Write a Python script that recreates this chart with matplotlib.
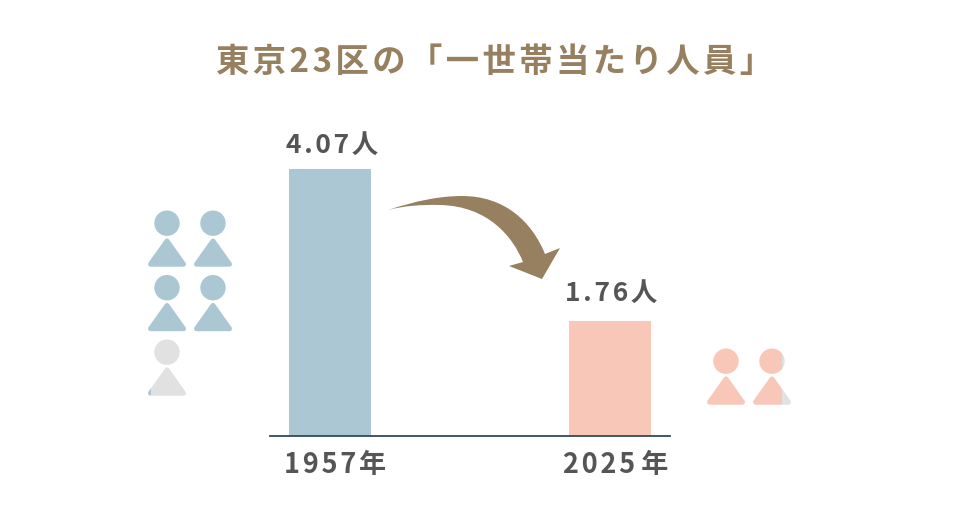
import matplotlib
matplotlib.use('Agg')
import matplotlib.pyplot as plt
from matplotlib.patches import Circle, Polygon, PathPatch, Rectangle
from matplotlib.path import Path
from matplotlib.transforms import ScaledTranslation

plt.rcParams['font.family'] = ['Noto Sans CJK JP', 'DejaVu Sans']

# data
years = ['1957年', '2025 年']
members = [4.07, 1.76]
value_labels = ['4.07人', '1.76人']
title = '東京23区の「一世帯当たり人員」'

BLUE = '#abc7d3'
PINK = '#f9c7b7'
GREY = '#e1e1e1'
BROWN = '#96805f'
TEXT = '#555555'
W, H = 960, 516
HAIR = '\u200a'


def spaced(s, sep=HAIR):
    # letter spacing, but leave real spaces alone
    out = s[0]
    for a, b in zip(s, s[1:]):
        out += b if (a == ' ' or b == ' ') else sep + b
    return out


def draw_person(ax, cx, top, color, frac=1.0):
    # frac of the figure width gets the colour, the rest stays grey
    left = cx - 19
    for c, clip_l, clip_w in [(GREY, left + 38 * frac, 38 * (1 - frac)), (color, left, 38 * frac)]:
        if clip_w <= 0:
            continue
        clip = Rectangle((clip_l, top - 5), clip_w, 70, transform=ax.transData)
        head = Circle((cx, top + 12.7), 12.7, fc=c, ec='none')
        body = Polygon([(cx, top + 30.5), (cx - 16.5, top + 53.7), (cx + 16.5, top + 53.7)], closed=True,
                       fc=c, ec=c, lw=3.6, joinstyle='round')
        for p in (head, body):
            ax.add_patch(p)
            p.set_clip_path(clip)


def draw_people(ax, value, x0, y0, color):
    # two columns, one row for every two people
    n = int(value) + (1 if value % 1 > 0 else 0)
    for i in range(n):
        frac = min(1.0, value - i)
        draw_person(ax, x0 + (i % 2) * 46, y0 + (i // 2) * 64.5, color, frac)


fig = plt.figure(figsize=(W / 100, H / 100), dpi=100, facecolor='white')

# bar axes: baseline at y=436 px, x 270..670 px
ax = fig.add_axes([270 / W, 1 - 436 / H, 400 / W, 336 / H])
xpos = [0, 1]
ax.bar(xpos, members, width=82 / 280, color=[BLUE, PINK])
ax.set_xlim(-59.5 / 280, 1 + 60.5 / 280)
ax.set_ylim(0, 336 / 267 * 4.07)
ax.set_yticks([])
ax.set_xticks(xpos)
ax.set_xticklabels([spaced(y) for y in years], fontsize=19.5, fontweight='bold', color=TEXT)
ax.tick_params(axis='x', length=0, pad=10.5)
# the year labels sit a little right of the bar centres
shift = ScaledTranslation(6 / 100, 0, fig.dpi_scale_trans)
for lab in ax.get_xticklabels():
    lab.set_transform(lab.get_transform() + shift)
for s in ['top', 'left', 'right']:
    ax.spines[s].set_visible(False)
ax.spines['bottom'].set_color('#2f4a5a')
ax.spines['bottom'].set_linewidth(1.3)
ax.patch.set_alpha(0)

label_lifts = [7.5, 10]
for x, v, lab, lift in zip(xpos, members, value_labels, label_lifts):
    ax.annotate(spaced(lab), xy=(x, v), xytext=(1.5, lift), textcoords='offset points',
                ha='center', va='bottom', fontsize=19, fontweight='bold', color=TEXT)

# overlay in pixel coordinates for the pictograms and arrow
over = fig.add_axes([0, 0, 1, 1])
over.set_xlim(0, W)
over.set_ylim(H, 0)
over.axis('off')

draw_people(over, members[0], 167, 210.5, BLUE)
draw_people(over, members[1], 726, 348.5, PINK)

arrow = Path(
    [(388, 210), (415, 201), (440, 196), (462, 196),
     (505, 196), (532, 222), (545, 254),
     (560, 248), (542, 279), (509, 266), (523, 262),
     (513, 237), (488, 206), (440, 205),
     (420, 204.5), (403, 206), (388, 210), (388, 210)],
    [Path.MOVETO, Path.CURVE4, Path.CURVE4, Path.CURVE4,
     Path.CURVE4, Path.CURVE4, Path.CURVE4,
     Path.LINETO, Path.LINETO, Path.LINETO, Path.LINETO,
     Path.CURVE4, Path.CURVE4, Path.CURVE4,
     Path.CURVE4, Path.CURVE4, Path.CURVE4, Path.CLOSEPOLY])
over.add_patch(PathPatch(arrow, fc=BROWN, ec='none'))

over.text(216, 62.5, spaced(title), ha='left', va='center', fontsize=24, fontweight='bold', color=BROWN)

fig.savefig('out.png', dpi=100)
plt.close(fig)
